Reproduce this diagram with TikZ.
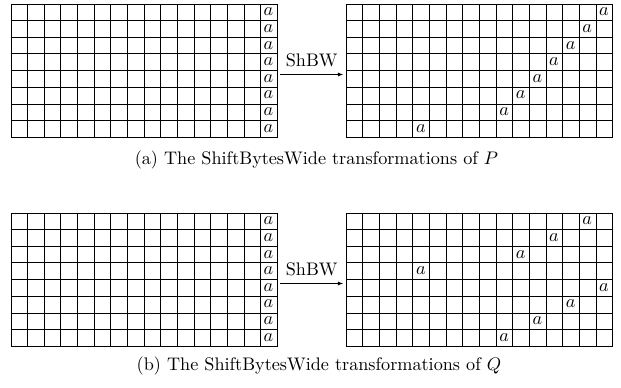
\documentclass[tikz,border=0pt]{standalone}
\usetikzlibrary{arrows.meta, positioning, calc}

\begin{document}
\begin{tikzpicture}[x=0.55pt, y=0.55pt,
    state/.style={draw, rectangle, minimum width=146.3pt, minimum height=73.2pt, inner sep=0pt},
    byte/.style={inner sep=0pt},
    shbw/.style={-{Latex[length=3pt]}, shorten <=1.6pt, shorten >=1.6pt}]
    \def\cw{16.63}
    \useasboundingbox (0,0) rectangle (621,-387);
    % States before and after ShiftBytesWide
    \node (Pin) [state] at (144,-70.5) {};
    \node (Pout) [state] at (479.5,-70.5) {};
    \node (Qin) [state] at (144,-279.5) {};
    \node (Qout) [state] at (479.5,-279.5) {};
    \foreach \g in {Pin,Pout,Qin,Qout} {
        \foreach \i in {1,...,15}
            \draw ($(\g.south west)!\i/16!(\g.south east)$) -- ($(\g.north west)!\i/16!(\g.north east)$);
        \foreach \j in {1,...,7}
            \draw ($(\g.south west)!\j/8!(\g.north west)$) -- ($(\g.south east)!\j/8!(\g.north east)$);
    }
    % Last column filled with a
    \foreach \r in {0,...,7} {
        \node[byte] at ($(Pin.north west)+({15.5*\cw},{-(\r+0.5)*\cw})$) {$a$};
        \node[byte] at ($(Qin.north west)+({15.5*\cw},{-(\r+0.5)*\cw})$) {$a$};
    }
    % Shifted positions
    \foreach \r/\s in {0/0,1/1,2/2,3/3,4/4,5/5,6/6,7/11}
        \node[byte] at ($(Pout.north west)+({(15.5-\s)*\cw},{-(\r+0.5)*\cw})$) {$a$};
    \foreach \r/\s in {0/1,1/3,2/5,3/11,4/0,5/2,6/4,7/6}
        \node[byte] at ($(Qout.north west)+({(15.5-\s)*\cw},{-(\r+0.5)*\cw})$) {$a$};
    \draw[shbw] ([yshift=-2.2pt]Pin.east) -- node[above=0.6pt] {ShBW} ([yshift=-2.2pt]Pout.west);
    \draw[shbw] ([yshift=-2.2pt]Qin.east) -- node[above=0.6pt] {ShBW} ([yshift=-2.2pt]Qout.west);
    \node (capP) at (316.5,-160) {(a) The ShiftBytesWide transformations of $P$};
    \node (capQ) at (319,-366) {(b) The ShiftBytesWide transformations of $Q$};
\end{tikzpicture}
\end{document}
